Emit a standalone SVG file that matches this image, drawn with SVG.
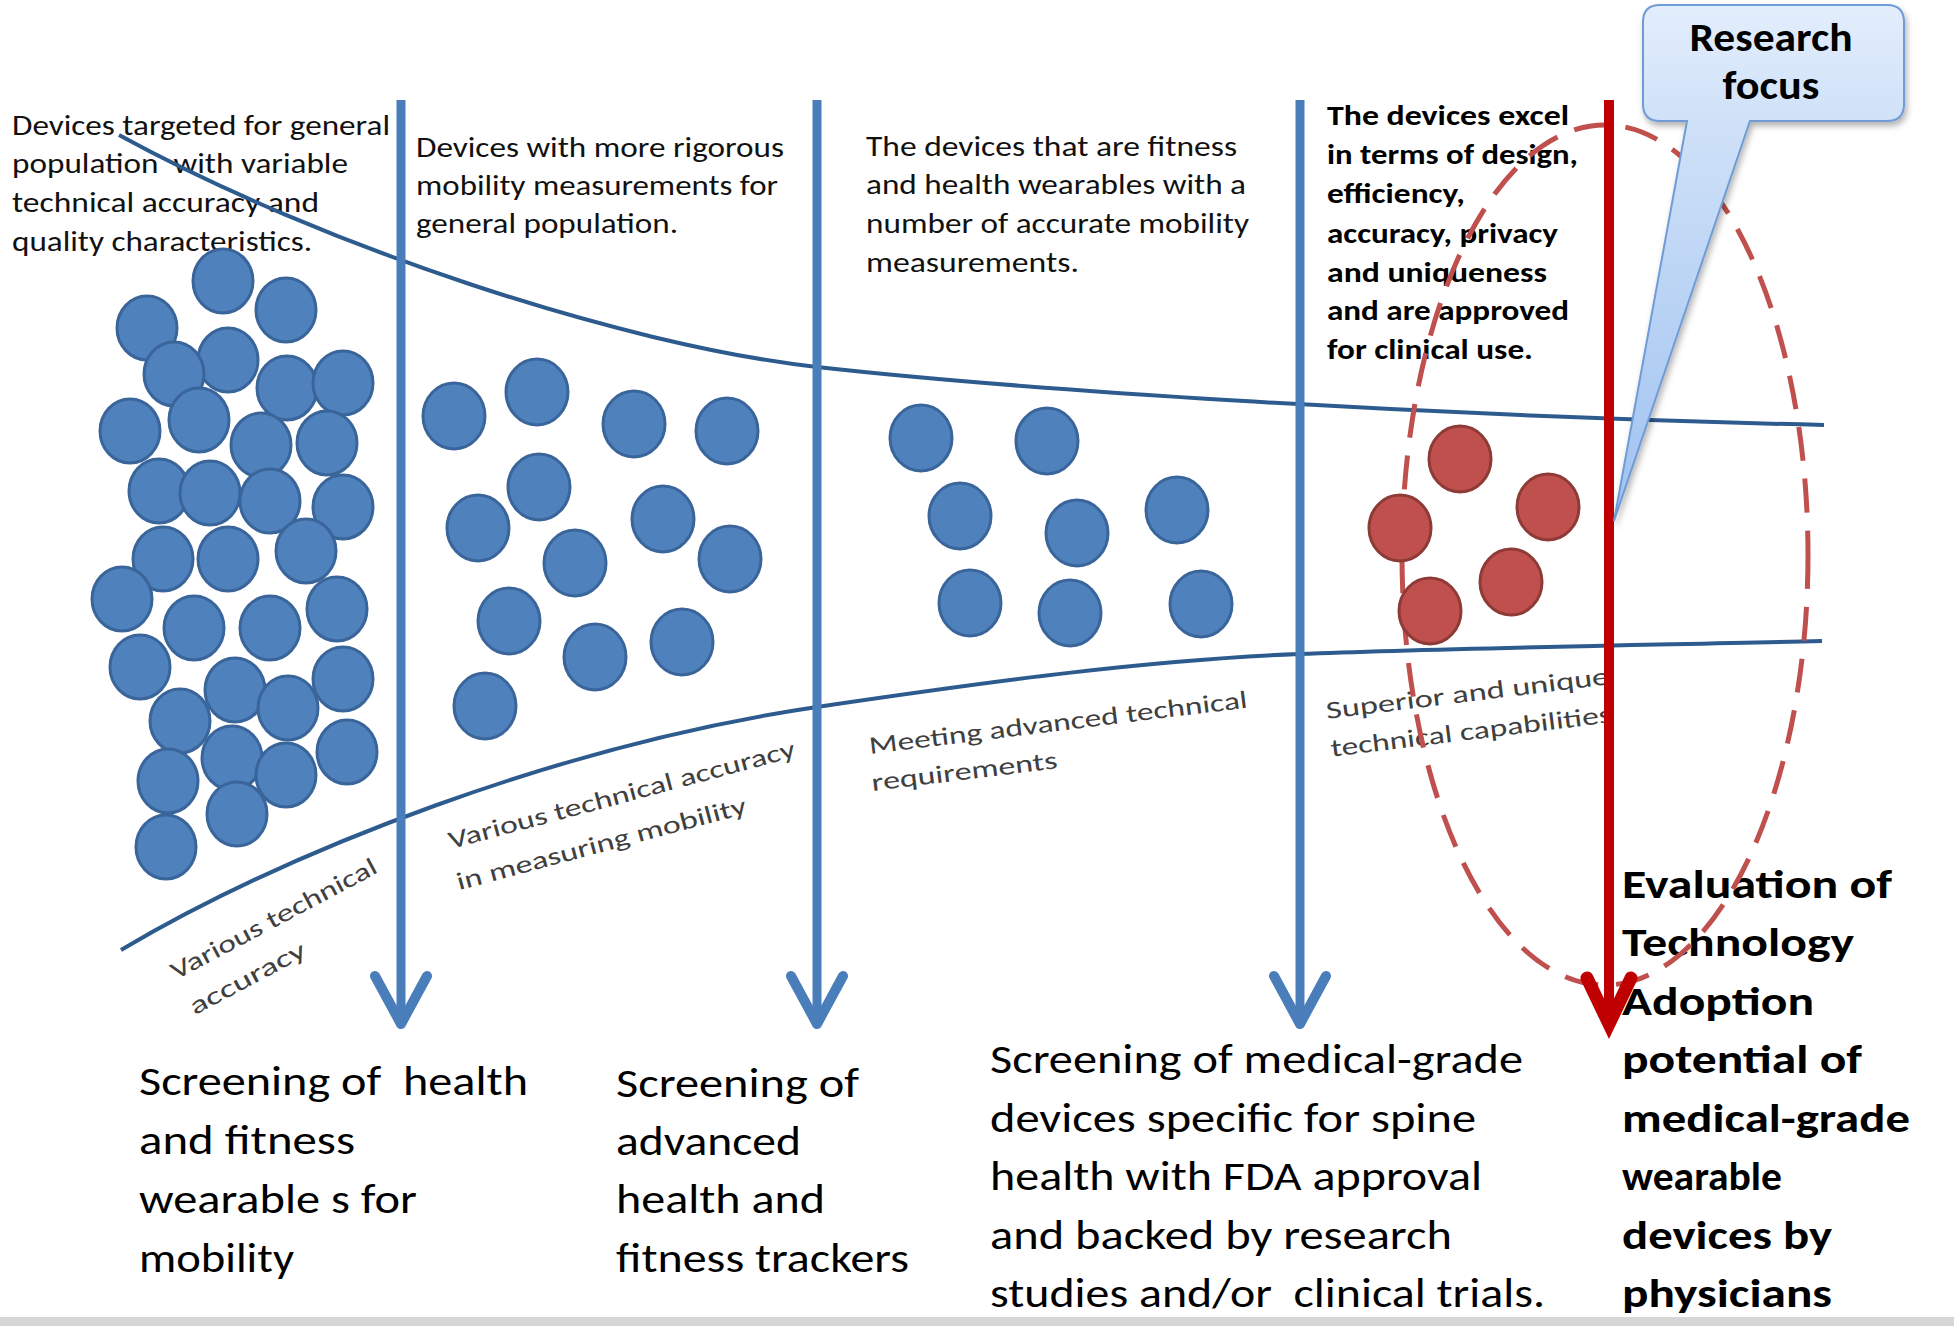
<svg xmlns="http://www.w3.org/2000/svg" width="1954" height="1326" viewBox="0 0 1954 1326">
<defs>
<style>
.t{font-family:Carlito,Calibri,Lato,"Liberation Sans",Arial,sans-serif;font-size:28px;fill:#111}
.tb{font-weight:bold;fill:#000}
.rl{font-family:Carlito,Calibri,Lato,"Liberation Sans",Arial,sans-serif;font-size:25px;fill:#404040}
.bt{font-family:Carlito,Calibri,Lato,"Liberation Sans",Arial,sans-serif;font-size:42px;fill:#000}
.bb{font-family:Carlito,Calibri,Lato,"Liberation Sans",Arial,sans-serif;font-size:41px;font-weight:bold;fill:#000}
.rf{font-family:Carlito,Calibri,Lato,"Liberation Sans",Arial,sans-serif;font-size:40px;font-weight:bold;fill:#000}
.pre{white-space:pre}
.b{fill:#4f81bd;stroke:#3a659a;stroke-width:3}
.r{fill:#c0504d;stroke:#8e3a37;stroke-width:3}
.curve{fill:none;stroke:#2d5b8e;stroke-width:4}
.arr{fill:none;stroke:#4a7ebb;stroke-width:9}
.arrR{fill:none;stroke:#c00000;stroke-width:10}
</style>
<marker id="hb" markerUnits="userSpaceOnUse" viewBox="-60 -35 70 70" markerWidth="70" markerHeight="70" refX="0" refY="0" orient="auto" overflow="visible">
<path d="M-48,-26 L0,0 L-48,26" fill="none" stroke="#4a7ebb" stroke-width="10" stroke-linecap="round" stroke-linejoin="round"/>
</marker>
<marker id="hr" markerUnits="userSpaceOnUse" viewBox="-60 -35 70 70" markerWidth="70" markerHeight="70" refX="0" refY="0" orient="auto" overflow="visible">
<path d="M-46,-22 L0,0 L-46,22" fill="none" stroke="#c00000" stroke-width="13" stroke-linecap="round" stroke-linejoin="miter"/>
</marker>
<linearGradient id="cg" gradientUnits="userSpaceOnUse" x1="0" y1="5" x2="0" y2="521">
<stop offset="0" stop-color="#e3eefc"/>
<stop offset="0.23" stop-color="#cfe1f8"/>
<stop offset="1" stop-color="#9fc2f0"/>
</linearGradient>
<filter id="sh" x="-20%" y="-10%" width="140%" height="130%">
<feDropShadow dx="2" dy="4" stdDeviation="3" flood-color="#000" flood-opacity="0.3"/>
</filter>
</defs>
<rect width="1954" height="1326" fill="#fff"/>

<g id="top-texts">
<g id="text-general">
<text class="t" x="12" y="135" textLength="378" lengthAdjust="spacingAndGlyphs" fill="#000">Devices targeted for general</text>
<text class="t pre" x="12" y="173" textLength="336" lengthAdjust="spacingAndGlyphs">population  with variable</text>
<text class="t" x="12" y="212" textLength="307" lengthAdjust="spacingAndGlyphs">technical accuracy and</text>
<text class="t" x="12" y="251" textLength="300" lengthAdjust="spacingAndGlyphs">quality characteristics.</text>
</g>
<g id="text-rigorous">
<text class="t" x="416" y="157" textLength="368" lengthAdjust="spacingAndGlyphs">Devices with more rigorous</text>
<text class="t" x="416" y="195" textLength="362" lengthAdjust="spacingAndGlyphs">mobility measurements for</text>
<text class="t" x="416" y="233" textLength="262" lengthAdjust="spacingAndGlyphs">general population.</text>
</g>
<g id="text-fitness">
<text class="t" x="866" y="156" textLength="371" lengthAdjust="spacingAndGlyphs">The devices that are fitness</text>
<text class="t" x="866" y="194" textLength="380" lengthAdjust="spacingAndGlyphs">and health wearables with a</text>
<text class="t" x="866" y="233" textLength="383" lengthAdjust="spacingAndGlyphs">number of accurate mobility</text>
<text class="t" x="866" y="272" textLength="213" lengthAdjust="spacingAndGlyphs">measurements.</text>
</g>
<g id="text-excel">
<text class="t tb" x="1327" y="125" textLength="242" lengthAdjust="spacingAndGlyphs">The devices excel</text>
<text class="t tb" x="1327" y="164" textLength="251" lengthAdjust="spacingAndGlyphs">in terms of design,</text>
<text class="t tb" x="1327" y="203" textLength="138" lengthAdjust="spacingAndGlyphs">efficiency,</text>
<text class="t tb" x="1327" y="243" textLength="231" lengthAdjust="spacingAndGlyphs">accuracy, privacy</text>
<text class="t tb" x="1327" y="282" textLength="220" lengthAdjust="spacingAndGlyphs">and uniqueness</text>
<text class="t tb" x="1327" y="320" textLength="242" lengthAdjust="spacingAndGlyphs">and are approved</text>
<text class="t tb" x="1327" y="359" textLength="206" lengthAdjust="spacingAndGlyphs">for clinical use.</text>
</g>
</g>

<g id="curve-labels">
<g transform="translate(176,980) rotate(-28)">
<text class="rl" x="0" y="0" textLength="230" lengthAdjust="spacingAndGlyphs">Various technical</text>
<text class="rl" x="0" y="40" textLength="128" lengthAdjust="spacingAndGlyphs">accuracy</text>
</g>
<g transform="translate(451,849) rotate(-15)">
<text class="rl" x="0" y="0" textLength="358" lengthAdjust="spacingAndGlyphs">Various technical accuracy</text>
<text class="rl" x="-3" y="42" textLength="299" lengthAdjust="spacingAndGlyphs">in measuring mobility</text>
</g>
<g transform="translate(870,754) rotate(-7)">
<text class="rl" x="0" y="0" textLength="381" lengthAdjust="spacingAndGlyphs">Meeting advanced technical</text>
<text class="rl" x="-2" y="37" textLength="187" lengthAdjust="spacingAndGlyphs">requirements</text>
</g>
<g transform="translate(1327,719) rotate(-7)">
<text class="rl" x="0" y="0" textLength="285" lengthAdjust="spacingAndGlyphs">Superior and unique</text>
<text class="rl" x="0" y="38" textLength="283" lengthAdjust="spacingAndGlyphs">technical capabilities</text>
</g>
</g>

<g id="bottom-texts">
<g id="stage1">
<text class="bt pre" x="139" y="1095" textLength="389" lengthAdjust="spacingAndGlyphs">Screening of  health</text>
<text class="bt" x="139" y="1154" textLength="216" lengthAdjust="spacingAndGlyphs">and fitness</text>
<text class="bt" x="139" y="1213" textLength="278" lengthAdjust="spacingAndGlyphs">wearable s for</text>
<text class="bt" x="139" y="1272" textLength="155" lengthAdjust="spacingAndGlyphs">mobility</text>
</g>
<g id="stage2">
<text class="bt" x="616" y="1097" textLength="243" lengthAdjust="spacingAndGlyphs">Screening of</text>
<text class="bt" x="616" y="1155" textLength="185" lengthAdjust="spacingAndGlyphs">advanced</text>
<text class="bt" x="616" y="1213" textLength="209" lengthAdjust="spacingAndGlyphs">health and</text>
<text class="bt" x="616" y="1272" textLength="293" lengthAdjust="spacingAndGlyphs">fitness trackers</text>
</g>
<g id="stage3">
<text class="bt" x="990" y="1073" textLength="533" lengthAdjust="spacingAndGlyphs" fill="#1a1a1a">Screening of medical-grade</text>
<text class="bt" x="990" y="1132" textLength="486" lengthAdjust="spacingAndGlyphs" fill="#1a1a1a">devices specific for spine</text>
<text class="bt" x="990" y="1190" textLength="492" lengthAdjust="spacingAndGlyphs" fill="#1a1a1a">health with FDA approval</text>
<text class="bt" x="990" y="1249" textLength="462" lengthAdjust="spacingAndGlyphs" fill="#1a1a1a">and backed by research</text>
<text class="bt pre" x="990" y="1307" textLength="555" lengthAdjust="spacingAndGlyphs" fill="#1a1a1a">studies and/or  clinical trials.</text>
</g>
<g id="stage4">
<text class="bb" x="1622" y="898" textLength="270" lengthAdjust="spacingAndGlyphs">Evaluation of</text>
<text class="bb" x="1622" y="956" textLength="232" lengthAdjust="spacingAndGlyphs">Technology</text>
<text class="bb" x="1622" y="1015" textLength="192" lengthAdjust="spacingAndGlyphs">Adoption</text>
<text class="bb" x="1622" y="1073" textLength="240" lengthAdjust="spacingAndGlyphs">potential of</text>
<text class="bb" x="1622" y="1132" textLength="288" lengthAdjust="spacingAndGlyphs">medical-grade</text>
<text class="bb" x="1622" y="1190" textLength="160" lengthAdjust="spacingAndGlyphs">wearable</text>
<text class="bb" x="1622" y="1249" textLength="210" lengthAdjust="spacingAndGlyphs">devices by</text>
<text class="bb" x="1622" y="1307" textLength="210" lengthAdjust="spacingAndGlyphs">physicians</text>
</g>
</g>

<g id="funnel">
<path class="curve" d="M119,135 C320,245 620,345 817,367 S1400,415 1824,425"/>
<path class="curve" d="M121,950 C290,850 560,745 817,707 C1000,680 1150,660 1299,654 C1450,648 1650,645 1822,641"/>
</g>

<g id="devices-general">
<ellipse class="b" cx="223" cy="281" rx="30" ry="32"/>
<ellipse class="b" cx="286" cy="310" rx="30" ry="32"/>
<ellipse class="b" cx="147" cy="328" rx="30" ry="32"/>
<ellipse class="b" cx="228" cy="360" rx="30" ry="32"/>
<ellipse class="b" cx="174" cy="374" rx="30" ry="32"/>
<ellipse class="b" cx="287" cy="388" rx="30" ry="32"/>
<ellipse class="b" cx="343" cy="383" rx="30" ry="32"/>
<ellipse class="b" cx="130" cy="431" rx="30" ry="32"/>
<ellipse class="b" cx="199" cy="420" rx="30" ry="32"/>
<ellipse class="b" cx="261" cy="445" rx="30" ry="32"/>
<ellipse class="b" cx="327" cy="443" rx="30" ry="32"/>
<ellipse class="b" cx="159" cy="491" rx="30" ry="32"/>
<ellipse class="b" cx="210" cy="493" rx="30" ry="32"/>
<ellipse class="b" cx="270" cy="501" rx="30" ry="32"/>
<ellipse class="b" cx="343" cy="507" rx="30" ry="32"/>
<ellipse class="b" cx="163" cy="559" rx="30" ry="32"/>
<ellipse class="b" cx="228" cy="559" rx="30" ry="32"/>
<ellipse class="b" cx="306" cy="551" rx="30" ry="32"/>
<ellipse class="b" cx="122" cy="599" rx="30" ry="32"/>
<ellipse class="b" cx="194" cy="628" rx="30" ry="32"/>
<ellipse class="b" cx="270" cy="628" rx="30" ry="32"/>
<ellipse class="b" cx="337" cy="609" rx="30" ry="32"/>
<ellipse class="b" cx="140" cy="667" rx="30" ry="32"/>
<ellipse class="b" cx="235" cy="690" rx="30" ry="32"/>
<ellipse class="b" cx="288" cy="708" rx="30" ry="32"/>
<ellipse class="b" cx="343" cy="679" rx="30" ry="32"/>
<ellipse class="b" cx="180" cy="721" rx="30" ry="32"/>
<ellipse class="b" cx="232" cy="758" rx="30" ry="32"/>
<ellipse class="b" cx="286" cy="775" rx="30" ry="32"/>
<ellipse class="b" cx="347" cy="752" rx="30" ry="32"/>
<ellipse class="b" cx="168" cy="781" rx="30" ry="32"/>
<ellipse class="b" cx="237" cy="814" rx="30" ry="32"/>
<ellipse class="b" cx="166" cy="847" rx="30" ry="32"/>
</g>

<g id="devices-rigorous">
<ellipse class="b" cx="454" cy="416" rx="31" ry="33"/>
<ellipse class="b" cx="537" cy="392" rx="31" ry="33"/>
<ellipse class="b" cx="634" cy="424" rx="31" ry="33"/>
<ellipse class="b" cx="727" cy="431" rx="31" ry="33"/>
<ellipse class="b" cx="539" cy="487" rx="31" ry="33"/>
<ellipse class="b" cx="478" cy="528" rx="31" ry="33"/>
<ellipse class="b" cx="663" cy="519" rx="31" ry="33"/>
<ellipse class="b" cx="575" cy="563" rx="31" ry="33"/>
<ellipse class="b" cx="730" cy="559" rx="31" ry="33"/>
<ellipse class="b" cx="509" cy="621" rx="31" ry="33"/>
<ellipse class="b" cx="595" cy="657" rx="31" ry="33"/>
<ellipse class="b" cx="682" cy="642" rx="31" ry="33"/>
<ellipse class="b" cx="485" cy="706" rx="31" ry="33"/>
</g>

<g id="devices-fitness">
<ellipse class="b" cx="921" cy="438" rx="31" ry="33"/>
<ellipse class="b" cx="1047" cy="441" rx="31" ry="33"/>
<ellipse class="b" cx="960" cy="516" rx="31" ry="33"/>
<ellipse class="b" cx="1077" cy="533" rx="31" ry="33"/>
<ellipse class="b" cx="1177" cy="510" rx="31" ry="33"/>
<ellipse class="b" cx="970" cy="603" rx="31" ry="33"/>
<ellipse class="b" cx="1070" cy="613" rx="31" ry="33"/>
<ellipse class="b" cx="1201" cy="604" rx="31" ry="33"/>
</g>

<g id="research-focus-ellipse">
<ellipse cx="1605" cy="555" rx="203" ry="430" fill="none" stroke="#c0504d" stroke-width="5" stroke-dasharray="34 18"/>
</g>

<g id="devices-medical">
<ellipse class="r" cx="1460" cy="459" rx="31" ry="33"/>
<ellipse class="r" cx="1548" cy="507" rx="31" ry="33"/>
<ellipse class="r" cx="1400" cy="528" rx="31" ry="33"/>
<ellipse class="r" cx="1511" cy="582" rx="31" ry="33"/>
<ellipse class="r" cx="1430" cy="611" rx="31" ry="33"/>
</g>

<g id="connectors">
<path class="arr" d="M401,100 V1024" marker-end="url(#hb)"/>
<path class="arr" d="M817,100 V1024" marker-end="url(#hb)"/>
<path class="arr" d="M1300,100 V1024" marker-end="url(#hb)"/>
<path class="arrR" d="M1609,100 V1024" marker-end="url(#hr)"/>
</g>

<g id="callout">
<path d="M1660,5 H1887 Q1904,5 1904,22 V104 Q1904,121 1887,121 H1750 L1614,521 L1687,121 H1660 Q1643,121 1643,104 V22 Q1643,5 1660,5 Z" fill="url(#cg)" stroke="#6f9bd6" stroke-width="2" filter="url(#sh)"/>
<text class="rf" x="1771" y="51" text-anchor="middle" textLength="163" lengthAdjust="spacingAndGlyphs">Research</text>
<text class="rf" x="1771" y="99" text-anchor="middle" textLength="97" lengthAdjust="spacingAndGlyphs">focus</text>
</g>

<rect x="0" y="1317" width="1954" height="9" fill="#d6d6d6"/>
</svg>
